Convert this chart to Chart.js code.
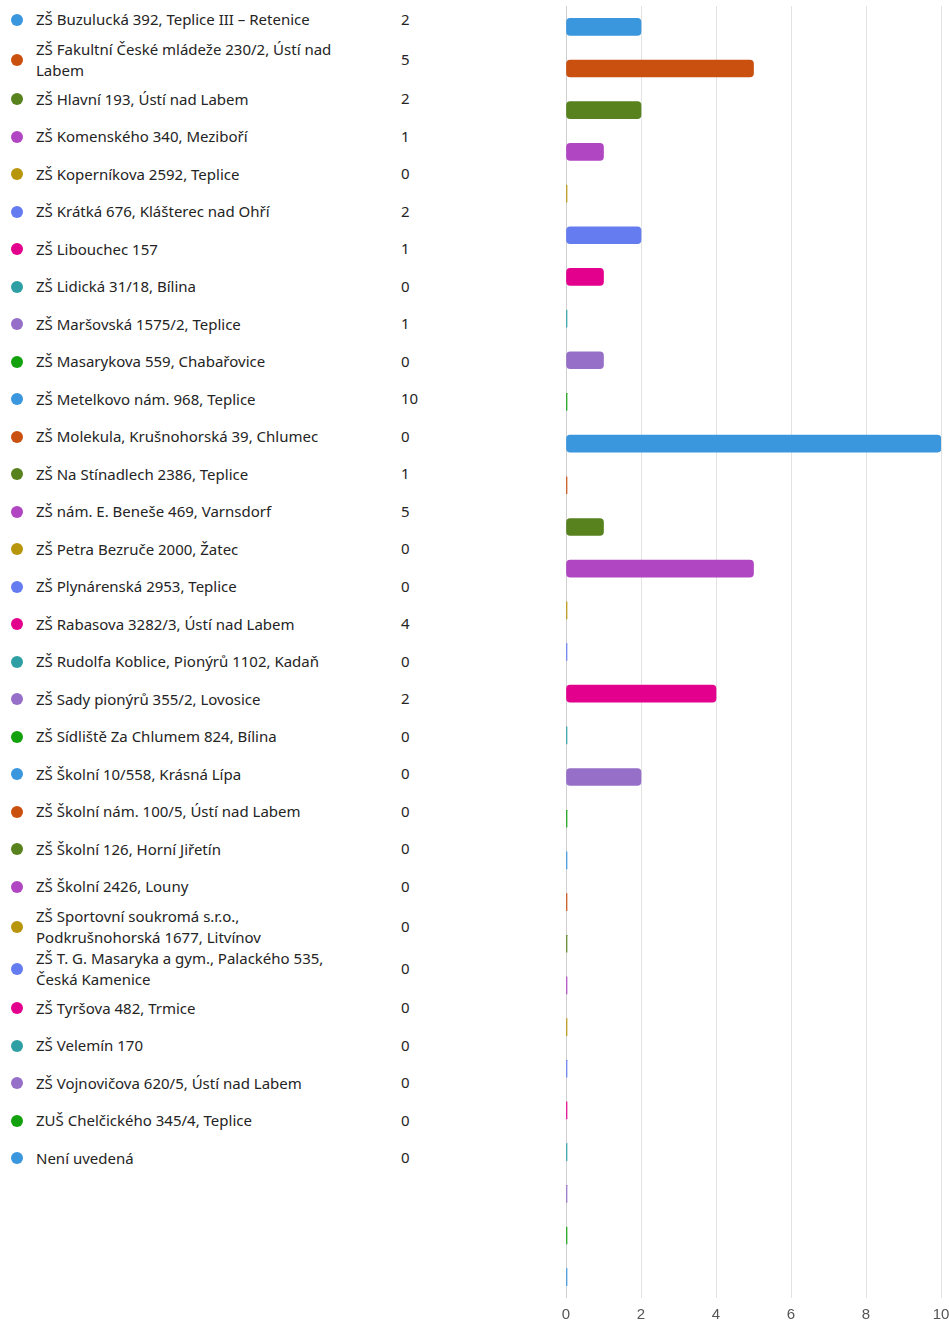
<!DOCTYPE html>
<html>
<head>
<meta charset="utf-8">
<script src="https://cdn.jsdelivr.net/npm/chart.js@4.4.1/dist/chart.umd.min.js"></script>
<style>
  html, body { margin: 0; padding: 0; background: #fff; overflow: hidden; }
  body { width: 949px; height: 1332px; position: relative; font-family: "Noto Sans", sans-serif; }
  #leyenda { position: absolute; left: 0; top: 1px; width: 440px; }
  .fila { position: relative; display: flex; align-items: center; min-height: 37.5px; font-size: 15px; line-height: 21px; color: #242424; }
  .punto { width: 12px; height: 12px; border-radius: 50%; margin-left: 11px; margin-right: 13px; flex: none; }
  .texto { width: 322px; }
  .valor { position: absolute; left: 401px; top: 50%; margin-top: -11px; }
  #grafico { position: absolute; left: 540px; top: 0; }
</style>
</head>
<body>
<div id="leyenda"></div>
<canvas id="grafico" width="420" height="1332"></canvas>
<script>
var escuelas = [
  "ZŠ Buzulucká 392, Teplice III – Retenice",
  "ZŠ Fakultní České mládeže 230/2, Ústí nad Labem",
  "ZŠ Hlavní 193, Ústí nad Labem",
  "ZŠ Komenského 340, Meziboří",
  "ZŠ Koperníkova 2592, Teplice",
  "ZŠ Krátká 676, Klášterec nad Ohří",
  "ZŠ Libouchec 157",
  "ZŠ Lidická 31/18, Bílina",
  "ZŠ Maršovská 1575/2, Teplice",
  "ZŠ Masarykova 559, Chabařovice",
  "ZŠ Metelkovo nám. 968, Teplice",
  "ZŠ Molekula, Krušnohorská 39, Chlumec",
  "ZŠ Na Stínadlech 2386, Teplice",
  "ZŠ nám. E. Beneše 469, Varnsdorf",
  "ZŠ Petra Bezruče 2000, Žatec",
  "ZŠ Plynárenská 2953, Teplice",
  "ZŠ Rabasova 3282/3, Ústí nad Labem",
  "ZŠ Rudolfa Koblice, Pionýrů 1102, Kadaň",
  "ZŠ Sady pionýrů 355/2, Lovosice",
  "ZŠ Sídliště Za Chlumem 824, Bílina",
  "ZŠ Školní 10/558, Krásná Lípa",
  "ZŠ Školní nám. 100/5, Ústí nad Labem",
  "ZŠ Školní 126, Horní Jiřetín",
  "ZŠ Školní 2426, Louny",
  "ZŠ Sportovní soukromá s.r.o., Podkrušnohorská 1677, Litvínov",
  "ZŠ T. G. Masaryka a gym., Palackého 535, Česká Kamenice",
  "ZŠ Tyršova 482, Trmice",
  "ZŠ Velemín 170",
  "ZŠ Vojnovičova 620/5, Ústí nad Labem",
  "ZUŠ Chelčického 345/4, Teplice",
  "Není uvedená"
];
var respuestas = [2, 5, 2, 1, 0, 2, 1, 0, 1, 0, 10, 0, 1, 5, 0, 0, 4, 0, 2, 0, 0, 0, 0, 0, 0, 0, 0, 0, 0, 0, 0];
var paleta = ["#3a96dd", "#ca5010", "#57821e", "#b146c2", "#b8960c", "#647cf0", "#e3008c", "#2ea0a4", "#9670c8", "#13a10e"];
var marcasX = [0, 2, 4, 6, 8, 10];

var colores = escuelas.map(function(e, i){ return paleta[i % paleta.length]; });

// leyenda a la izquierda
var leyenda = document.getElementById("leyenda");
escuelas.forEach(function(nombre, i){
  var fila = document.createElement("div");
  fila.className = "fila";
  fila.innerHTML = '<span class="punto" style="background:' + colores[i] + '"></span>' +
    '<span class="texto">' + nombre + '</span>' +
    '<span class="valor">' + respuestas[i] + '</span>';
  leyenda.appendChild(fila);
});

var ctx = document.getElementById("grafico").getContext("2d");
var grafico = new Chart(ctx, {
  type: 'bar',
  data: {
    labels: escuelas,
    datasets: [{
      data: respuestas,
      backgroundColor: colores,
      borderRadius: 4,
      borderSkipped: false,
      barThickness: 17,
      minBarLength: 1
    }]
  },
  options: {
    indexAxis: 'y',
    responsive: false,
    devicePixelRatio: 1,
    animation: false,
    layout: { padding: { left: 26, right: 19, top: 6, bottom: 0 } },
    plugins: { legend: { display: false }, tooltip: { enabled: false } },
    scales: {
      x: {
        min: 0,
        max: 10,
        afterBuildTicks: function(axis){
          axis.ticks = marcasX.map(function(v){ return { value: v }; });
        },
        grid: {
          color: function(c){ return c.tick && c.tick.value === 0 ? '#cfcfcf' : '#e3e3e3'; },
          drawTicks: false
        },
        border: { display: false },
        ticks: {
          padding: 8,
          color: '#555',
          font: { family: 'Liberation Sans', size: 15 }
        }
      },
      y: { display: false }
    }
  }
});
</script>
</body>
</html>
